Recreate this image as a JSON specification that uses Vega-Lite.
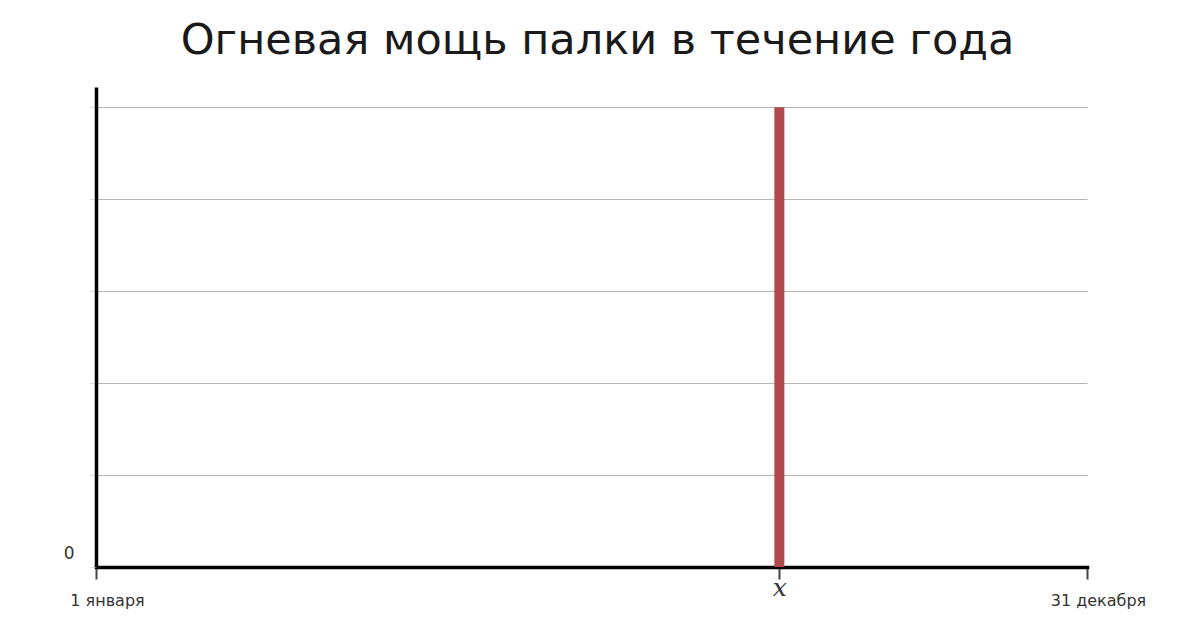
{
  "$schema": "https://vega.github.io/schema/vega-lite/v6.json",
  "width": 991,
  "height": 480,
  "autosize": "none",
  "padding": {"left": 96, "top": 87, "right": 113, "bottom": 61},
  "background": "white",
  "view": {"stroke": null},
  "title": {
    "text": "Огневая мощь палки в течение года",
    "font": "DejaVu Sans",
    "fontSize": 43,
    "fontWeight": "normal",
    "color": "#1a1a1a",
    "anchor": "middle",
    "offset": 24,
    "dx": 6
  },
  "data": {"values": [{"day": 252, "power": 5, "base": 0}]},
  "encoding": {
    "x": {
      "field": "day",
      "type": "quantitative",
      "scale": {"domain": [1, 365], "nice": false, "zero": false},
      "axis": {
        "title": null,
        "values": [1, 252, 365],
        "grid": false,
        "labelExpr": "datum.value == 1 ? '1 января' : (datum.value == 365 ? '31 декабря' : 'x')",
        "domainColor": "#000000",
        "domainWidth": 3.5,
        "domainCap": "square",
        "tickColor": "#444444",
        "tickWidth": 2,
        "tickSize": 12,
        "labelColor": "#333333",
        "labelFont": {"condition": {"test": "datum.value == 252", "value": "DejaVu Serif"}, "value": "DejaVu Sans"},
        "labelFontStyle": {"condition": {"test": "datum.value == 252", "value": "italic"}, "value": "normal"},
        "labelFontSize": {"condition": {"test": "datum.value == 252", "value": 25}, "value": 16},
        "labelPadding": {"condition": {"test": "datum.value == 252", "value": -4}, "value": 13},
        "labelOffset": {"condition": {"test": "datum.value == 252", "value": 0}, "value": 11},
        "labelFlush": false,
        "labelOverlap": false
      }
    },
    "y": {
      "field": "power",
      "type": "quantitative",
      "scale": {"domain": [0, 5.22], "nice": false},
      "axis": {
        "title": null,
        "values": [0, 1, 2, 3, 4, 5],
        "labelExpr": "datum.value == 0 ? '0' : ''",
        "grid": true,
        "gridColor": "#b5b5b5",
        "gridWidth": 1,
        "domainColor": "#000000",
        "domainWidth": 3.5,
        "tickColor": "#dddddd",
        "tickSize": 6,
        "labelFont": "DejaVu Sans",
        "labelFontSize": 17,
        "labelColor": "#333333",
        "labelPadding": 16,
        "labelOffset": -14
      }
    }
  },
  "layer": [
    {
      "mark": {"type": "rule", "color": "#b04a4a", "strokeWidth": 10},
      "encoding": {"y2": {"field": "base"}}
    }
  ]
}
